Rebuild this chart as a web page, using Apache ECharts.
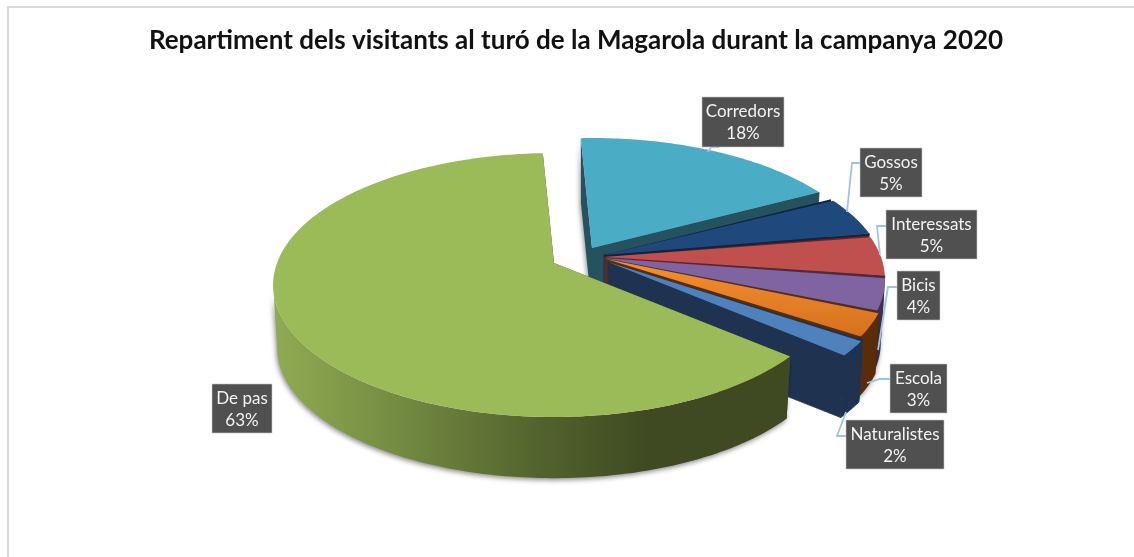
<!DOCTYPE html>
<html><head><meta charset="utf-8">
<style>html,body{margin:0;padding:0;background:#fff}#c{width:1134px;height:557px}</style>
<script src="https://cdn.jsdelivr.net/npm/echarts@6/dist/echarts.min.js"></script>
</head><body><div id="c"></div>
<script>
var titleText = 'Repartiment dels visitants al turó de la Magarola durant la campanya 2020';
var categories = ['Corredors','Gossos','Interessats','Bicis','Escola','Naturalistes','De pas'];
var percents = [18,5,5,4,3,2,63];

// Style and layout (not data)
var topColors  = ['#4BACC6','#1F497D','#C0504D','#8064A2','#F28A2A','#4F81BD','#9BBB59'];
var wallColors = ['#25525F','#0F243E','#632523','#3F3151','#5A2D0A','#1F3350','#3F4A22'];
var explode = [[-12,-10],[0,-3],[0,-1],[0,0],[2,1],[4,4],[-50,5]];
var base = {x:604,y:258}, A=277, B=128.3, K=0.1667, depth=63.5, bottomScale=0.985;
var startDeg = -92.7, gapDeg = 0.8;
var silhouette = [9.6,170.4];
var boxes = [[702,97,82,50],[860,148,62,49],[886,210,91,49],[897,271,43,49],[890,364,57,49],[846,420,98,49],[212,384,60,49]];
var leaders = [
 [[708,152],[711,147],[719,147]],
 [[847,212],[852,163],[860,163]],
 [[880,255],[877,226],[886,226]],
 [[878,350],[888,287],[897,287]],
 [[867,383],[880,379],[890,379]],
 [[846,412],[837,436],[846,436]],
 []
];
var fontFamily = 'Lato, "Open Sans", sans-serif';

function project(t, deg, r, low){
  var a = deg*Math.PI/180, s = Math.sin(a)*r, c = Math.cos(a)*r, w = 1-K*s, f = low?bottomScale:1;
  return [t[0]+f*A*c/w, t[1]+(low?depth:0)+f*B*s/w];
}
function arc(t, a0, a1, low){
  var pts=[], n=Math.max(2,Math.ceil(Math.abs(a1-a0)));
  for(var i=0;i<=n;i++) pts.push(project(t,a0+(a1-a0)*i/n,1,low));
  return pts;
}
var total = percents.reduce(function(p,v){return p+v;},0);
function sliceStart(idx){
  var before = 0;
  for(var i=0;i<idx;i++) before += percents[i];
  return startDeg+before/total*360;
}
function renderSlice(params, api){
  var i = params.dataIndex, v = api.value(0);
  var a0 = sliceStart(i), a1 = a0 + v/total*360;
  var t = [base.x+explode[i][0], base.y+explode[i][1]];
  var faceStart = a0 + (i>0 && i<6 ? gapDeg : 0);
  var T = project(t,0,0,false), Tl = project(t,0,0,true);
  var wall = wallColors[i];
  var shadow = {shadowBlur:5, shadowColor:'rgba(0,0,0,0.45)', shadowOffsetX:-1, shadowOffsetY:2};
  var outerFill = wall;
  if(i===6){
    outerFill = new echarts.graphic.LinearGradient(0,0,1,0,[
      {offset:0,color:'#90AB51'},{offset:0.25,color:'#728A42'},{offset:0.5,color:'#55652E'},
      {offset:0.72,color:'#3F4A22'},{offset:1,color:'#3F4A22'}]);
  }
  var kids = [];
  function poly(points, fill, extra){
    kids.push({type:'polygon',shape:{points:points},style:Object.assign({fill:fill,stroke:null},extra||{}),silent:true});
  }
  var seam = {stroke:wall,lineWidth:0.8};
  poly([T,project(t,a0,1,false),project(t,a0,1,true),Tl], wall, i===0?shadow:null);
  poly([T,project(t,a1,1,false),project(t,a1,1,true),Tl], wall, i<6?seam:null);
  var w0 = Math.max(a0,silhouette[0]), w1 = Math.min(a1,silhouette[1]);
  if(w1>w0){
    poly(arc(t,w0,w1,false).concat(arc(t,w0,w1,true).reverse()), outerFill, i===5?seam:shadow);
  }
  var face = arc(t,faceStart,a1,false); face.unshift(T);
  var faceFill = topColors[i];
  if(i===4){
    faceFill = new echarts.graphic.LinearGradient(0,0,0,1,[{offset:0,color:'#F59030'},{offset:1,color:'#D5711E'}]);
  }
  poly(face, faceFill);
  return {type:'group',children:kids};
}
function renderLabel(params, api){
  var i = params.dataIndex, b = boxes[i], kids = [];
  if(leaders[i].length){
    kids.push({type:'polyline',shape:{points:leaders[i]},style:{stroke:'#9DC3E6',lineWidth:1.8,fill:null},silent:true});
  }
  kids.push({type:'rect',shape:{x:b[0],y:b[1],width:b[2],height:b[3]},style:{fill:'#505050',stroke:'#C8C8C8',lineWidth:0.6},silent:true});
  kids.push({type:'text',style:{x:b[0]+b[2]/2,y:b[1]+b[3]/2+1,text:categories[i]+'\n'+api.value(0)+'%',
    align:'center',verticalAlign:'middle',fill:'#F2F2F2',font:'17px '+fontFamily,lineHeight:22},silent:true});
  return {type:'group',children:kids};
}
var seriesData = categories.map(function(n,i){return {name:n,value:[percents[i]]};});
var chart = echarts.init(document.getElementById('c'),null,{renderer:'canvas'});
chart.setOption({
  animation:false,
  backgroundColor:'#fff',
  title:{text:titleText,left:571,top:23,textAlign:'center',textStyle:{fontFamily:fontFamily,fontWeight:'bold',fontSize:26,color:'#111'}},
  graphic:[{type:'rect',z:-1,shape:{x:8,y:7,width:1140,height:570},style:{fill:'#fff',stroke:'#D9D9D9',lineWidth:2},silent:true}],
  series:[
    {type:'custom',coordinateSystem:'none',renderItem:renderSlice,data:seriesData,z:2,clip:false,silent:true},
    {type:'custom',coordinateSystem:'none',renderItem:renderLabel,data:seriesData,z:3,clip:false,silent:true}
  ]
});
</script></body></html>
